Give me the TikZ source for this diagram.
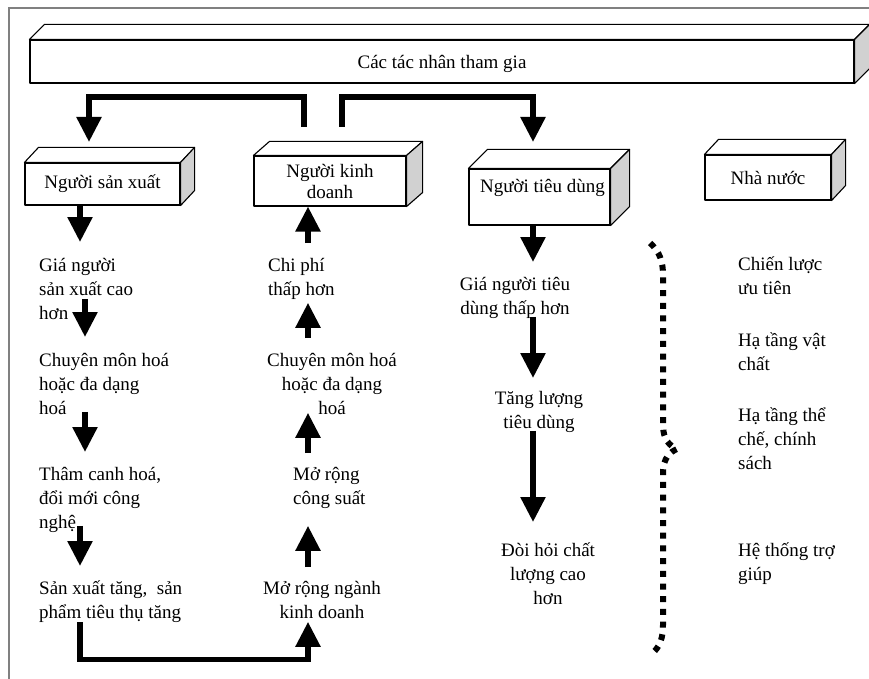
\documentclass[tikz,border=0pt]{standalone}
\usepackage{fontspec}
\setmainfont{Liberation Serif}
\usetikzlibrary{arrows.meta,calc}
\definecolor{sidegray}{gray}{0.82}
% top and side faces of a box node
\newcommand{\boxfaces}[3]{%
  \draw[edge3d,fill=white] (#1.north west) -- ++(#2,-#3) -- ([shift={(#2,-#3)}]#1.north east) -- (#1.north east) -- cycle;
  \draw[edge3d,fill=sidegray] (#1.north east) -- ++(#2,-#3) -- ([shift={(#2,-#3)}]#1.south east) -- (#1.south east) -- cycle;}
\tikzset{
  edge3d/.style={line width=1.1pt,line join=round},
  face/.style={draw,fill=white,edge3d,inner sep=2pt,align=center},
  flow/.style={line width=5.5pt,-{Triangle[width=24pt,length=25pt]}},
  lbl/.style={inner sep=0pt,execute at begin node=\strut,execute at end node=\strut},
}

\begin{document}
\begin{tikzpicture}[x=1pt,y=-1pt,font=\fontsize{19}{24}\selectfont]
  \useasboundingbox (0,0) rectangle (869,679);
  \draw[black!50,line width=1.2pt] (869,8) -- (9,8) -- (9,679);

  % boxes
  \node[face,minimum width=824pt,minimum height=43pt,text height=19pt,text depth=4pt] (actors) at (442,61.5) {Các tác nhân tham gia};
  \node[face,minimum width=155pt,minimum height=42pt] (prod) at (102.5,184) {Người sản xuất};
  \node[face,minimum width=152pt,minimum height=50pt,inner ysep=0pt] (trade) at (330,181) {Người kinh\\[-3pt]doanh};
  \node[face,minimum width=141pt,minimum height=56pt,text height=15pt,text depth=23pt] (cons) at (539.5,197) {\hspace*{6pt}Người tiêu dùng};
  \node[face,minimum width=126pt,minimum height=45pt] (state) at (768,177.5) {Nhà nước};
  \boxfaces{actors}{15}{15}
  \boxfaces{prod}{14}{15}
  \boxfaces{trade}{16}{14}
  \boxfaces{cons}{19}{19}
  \boxfaces{state}{14}{15}

  % producer column
  \node[lbl,align=left,anchor=north west] (g1) at (39,258) {Giá người\\sản xuất cao\\hơn};
  \node[lbl,align=left,anchor=north west] (g2) at (39,353) {Chuyên môn hoá\\hoặc đa dạng\\hoá};
  \node[lbl,align=left,anchor=north west] (g3) at (39,467) {Thâm canh hoá,\\đổi mới công\\nghệ};
  \node[lbl,align=left,anchor=north west] (g4) at (39,581) {Sản xuất tăng,~ sản\\phẩm tiêu thụ tăng};

  % trader column
  \node[lbl,align=left,anchor=north west] (c2) at (268,258) {Chi phí\\thấp hơn};
  \node[lbl,align=center,anchor=north] (c3) at (332,353) {Chuyên môn hoá\\hoặc đa dạng\\hoá};
  \node[lbl,align=left,anchor=north west] (c4) at (293,467) {Mở rộng\\công suất};
  \node[lbl,align=center,anchor=north] (c5) at (322,581) {Mở rộng ngành\\kinh doanh};

  % consumer column
  \node[lbl,align=center,anchor=north] (d1) at (515,277) {Giá người tiêu\\dùng thấp hơn};
  \node[lbl,align=center,anchor=north] (d2) at (539,391) {Tăng lượng\\tiêu dùng};
  \node[lbl,align=center,anchor=north] (d3) at (548,543) {Đòi hỏi chất\\lượng cao\\hơn};

  % state column
  \node[lbl,align=left,anchor=north west] (pol1) at (738,257) {Chiến lược\\ưu tiên};
  \node[lbl,align=left,anchor=north west] (pol2) at (738,333) {Hạ tầng vật\\chất};
  \node[lbl,align=left,anchor=north west] (pol3) at (738,408) {Hạ tầng thể\\chế, chính\\sách};
  \node[lbl,align=left,anchor=north west] (pol4) at (738,543) {Hệ thống trợ\\giúp};

  \coordinate (colL) at (80,0);
  \coordinate (colLb) at (85,0);
  \coordinate (colM) at (308,0);
  \coordinate (colR) at (533,0);
  \coordinate (spL) at (304,127);
  \coordinate (spR) at (342,127);
  \coordinate (tipP) at (89,142);
  \coordinate (tipC) at (533,142);

  % arrows from the top
  \draw[flow] (spL) -- ++(0,-30) -| (tipP);
  \draw[flow] (spR) -- ++(0,-30) -| (tipC);

  \draw[flow,shorten >=16pt] (prod.south -| colL) -- (g1.north -| colL);
  \draw[flow,shorten >=16pt] ($(g1.south -| colLb)+(0,-28)$) -- (g2.north -| colLb);
  \draw[flow,shorten >=15pt] ($(g2.south -| colLb)+(0,-10)$) -- (g3.north -| colLb);
  \draw[flow,shorten >=15pt] ($(g3.south -| colL)+(0,-10)$) -- (g4.north -| colL);
  \draw[flow] ($(g4.south -| colL)+(0,-4)$) -- ++(0,37) -| ($(c5.south -| colM)+(0,-4)$);

  \draw[flow,shorten <=14pt,shorten >=14pt] (c5.north -| colM) -- (c4.south -| colM);
  \draw[flow,shorten <=14pt] (c4.north -| colM) -- ($(c3.south -| colM)+(0,-9)$);
  \draw[flow,shorten <=15pt] (c3.north -| colM) -- (c2.south -| colM);
  \draw[flow,shorten <=15pt] (c2.north -| colM) -- (trade.south -| colM);

  \draw[flow,shorten >=15pt] (cons.south -| colR) -- (d1.north -| colR);
  \draw[flow,shorten >=13pt] ($(d1.south -| colR)+(0,-5)$) -- (d2.north -| colR);
  \draw[flow,shorten >=21pt] ($(d2.south -| colR)+(0,-5)$) -- (d3.north -| colR);

  % dotted brace
  \draw[line width=6pt,dash pattern=on 6pt off 6.7pt] (650,243) .. controls (660,252) and (663,262) .. (663,275) -- (663,425)
    .. controls (663,440) and (670,446) .. (677,449) .. controls (670,452) and (663,458) .. (663,473) -- (663,625)
    .. controls (663,638) and (660,648) .. (650,655);
\end{tikzpicture}
\end{document}
